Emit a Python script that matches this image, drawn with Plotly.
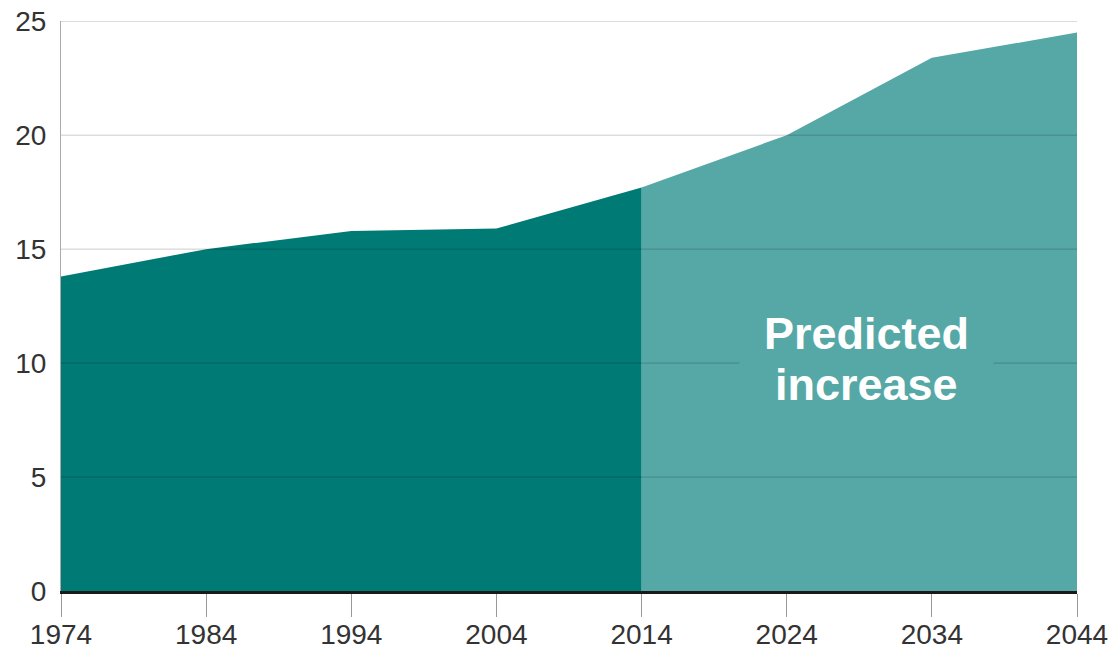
import plotly.graph_objects as go

years_hist = [1974, 1984, 1994, 2004, 2014]
values_hist = [13.8, 15.0, 15.8, 15.9, 17.7]
years_pred = [2014, 2024, 2034, 2044]
values_pred = [17.7, 20.0, 23.4, 24.5]
x_ticks = [1974, 1984, 1994, 2004, 2014, 2024, 2034, 2044]
y_ticks = [0, 5, 10, 15, 20, 25]
label_lines = ["Predicted", "increase"]

DARK = "#007a74"
LIGHT = "#56a8a6"
GRID = "rgba(0,0,0,0.2)"
FONT = "Liberation Sans, Arial, Helvetica, sans-serif"

x0, x1 = x_ticks[0], x_ticks[-1]

fig = go.Figure()
fig.add_trace(go.Scatter(x=years_pred, y=values_pred, fill="tozeroy", mode="lines",
                         line=dict(width=0, color=LIGHT), fillcolor=LIGHT,
                         hoverinfo="skip", showlegend=False))
fig.add_trace(go.Scatter(x=years_hist, y=values_hist, fill="tozeroy", mode="lines",
                         line=dict(width=0, color=DARK), fillcolor=DARK,
                         hoverinfo="skip", showlegend=False))

# gridlines drawn above the filled areas
gx, gy = [], []
for v in y_ticks[1:]:
    gx += [x0, x1, None]
    gy += [v, v, None]
fig.add_trace(go.Scatter(x=gx, y=gy, mode="lines", line=dict(width=1, color=GRID),
                         hoverinfo="skip", showlegend=False))

fig.add_annotation(x=2029.5, y=11.3, xref="x", yref="y",
                   text="<b>" + label_lines[0] + "</b>", showarrow=False,
                   font=dict(family=FONT, size=45, color="white"),
                   bgcolor=LIGHT, borderpad=24, align="center")
fig.add_annotation(x=2029.5, y=9.05, xref="x", yref="y",
                   text="<b>" + label_lines[1] + "</b>", showarrow=False,
                   font=dict(family=FONT, size=45, color="white"),
                   align="center")

fig.update_layout(
    width=1112, height=653,
    margin=dict(l=61, r=35, t=21, b=62, autoexpand=False),
    paper_bgcolor="white", plot_bgcolor="white",
    font=dict(family=FONT, size=28, color="#333333"),
    xaxis=dict(range=[x0, x1], tickvals=x_ticks, ticks="outside", ticklen=23,
               tickcolor="#999999", tickwidth=1, showgrid=False, zeroline=False,
               showline=True, linecolor="#1a1a1a", linewidth=3, layer="above traces",
               ticklabelstandoff=-7, automargin=False),
    yaxis=dict(range=[0, 25.01], tickvals=y_ticks, showgrid=False, zeroline=False,
               showline=True, linecolor="#aaaaaa", linewidth=1, layer="above traces",
               ticks="", ticklabelstandoff=8, automargin=False),
)

fig.write_html("out.html", config={"displayModeBar": False},
               post_script="document.body.style.margin='0';")
